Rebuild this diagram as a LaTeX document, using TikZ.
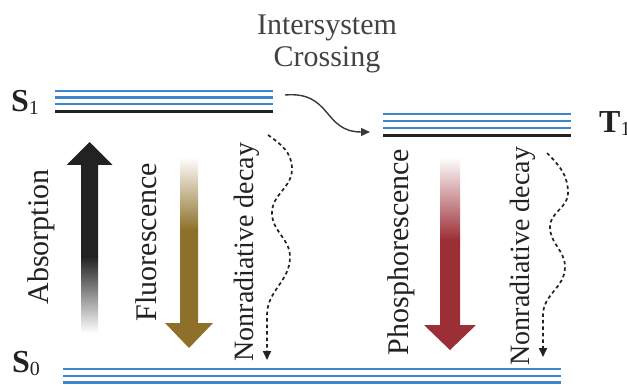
\documentclass[tikz,border=0pt]{standalone}
\usepackage{fontspec}
\setmainfont{Liberation Serif}
\usepackage{xcolor}
\usepackage{tikz}
\usetikzlibrary{arrows.meta}

\definecolor{levelblue}{RGB}{61,133,204}
\definecolor{darkline}{RGB}{34,34,34}
\definecolor{fluogold}{RGB}{142,112,42}
\definecolor{phosred}{RGB}{156,46,54}

\newcommand{\lvsub}[1]{{\fontsize{20}{20}\selectfont\raisebox{-3pt}{#1}}}

\begin{document}
\begin{tikzpicture}[x=1pt,y=1pt,
        every node/.style={inner sep=0pt,text=darkline},
        font=\fontsize{30}{32}\selectfont,
        vib/.style={levelblue,line width=2.2pt},
        elec/.style={darkline,line width=3.5pt},
        state/.style={anchor=base west,font=\fontsize{32}{34}\selectfont\bfseries},
        nrdecay/.style={darkline,line width=1.7pt,dash pattern=on 3.5pt off 3pt,-{Triangle[length=9pt,width=8pt]}},
        isc/.style={darkline!90,line width=1.4pt,-{Triangle[length=9pt,width=8pt]}}]
                \useasboundingbox (0,0) rectangle (627,389);
                % energy levels
                \foreach \y in {298.3,291.5,284.7} \draw[vib] (55,\y) -- (273,\y);
                \draw[elec] (55,277.3) -- (273,277.3);
                \foreach \y in {274.7,267.7,260.7} \draw[vib] (383,\y) -- (571,\y);
                \draw[elec] (383,253.3) -- (571,253.3);
                \foreach \y in {20,13.3,6.5} \draw[vib] (63,\y) -- (561,\y);
                \node[state] (s1) at (11,277) {S\lvsub{\mdseries 1}};
                \node[state] (s0) at (12,17) {S\lvsub{\mdseries 0}};
                \node[state] (t1) at (599,256) {T\lvsub{\mdseries 1}};
                % absorption
                \fill[darkline] (81,132) -- (81,224) -- (66.5,224) -- (89.5,247) -- (112.5,224) -- (98,224) -- (98,132) -- cycle;
                \shade[bottom color=white,top color=darkline] (81,56) rectangle (98,132.3);
                \node[rotate=90] (absorption) at (41.5,152) {Absorption};
                % fluorescence
                \shade[top color=white,bottom color=fluogold] (180,159) rectangle (198,232);
                \fill[fluogold] (180,159.3) -- (180,66) -- (165,66) -- (189,41) -- (213,66) -- (198,66) -- (198,159.3) -- cycle;
                \node[rotate=90] (fluorescence) at (146,147) {Fluorescence};
                % phosphorescence
                \shade[top color=white,bottom color=phosred] (440,149) rectangle (460,232);
                \fill[phosred] (440,149.3) -- (440,64) -- (424,64) -- (450,39) -- (476,64) -- (460,64) -- (460,149.3) -- cycle;
                \node[rotate=90] (phosphorescence) at (401.5,137) {Phosphorescence};
                % nonradiative decay
                \coordinate (nr1-top) at (268,254);
                \coordinate (nr1-bot) at (267,29);
                \draw[nrdecay] (nr1-top) to[out=-35,in=90] (292,220) to[out=-90,in=90] (272,176)
                    to[out=-90,in=90] (290,132) to[out=-90,in=90] (267,74) -- (nr1-bot);
                \node[rotate=90,font=\fontsize{28}{30}\selectfont] (nr1) at (247,137) {Nonradiative decay};
                \coordinate (nr2-top) at (547,236);
                \coordinate (nr2-bot) at (543,32);
                \draw[nrdecay] (nr2-top) to[out=-45,in=90] (568,196) to[out=-90,in=90] (550,162)
                    to[out=-90,in=90] (565,122) to[out=-90,in=90] (543,74) -- (nr2-bot);
                \node[rotate=90,font=\fontsize{28}{30}\selectfont] (nr2) at (523,133) {Nonradiative decay};
                % intersystem crossing
                \coordinate (isc-a) at (285,294);
                \coordinate (isc-b) at (370,257);
                \draw[isc] (isc-a) to[out=5,in=180,looseness=1.3] (isc-b);
                \node[align=center,text=darkline!85] (isc-text) at (327,345) {Intersystem\\Crossing};
            \end{tikzpicture}
\end{document}
